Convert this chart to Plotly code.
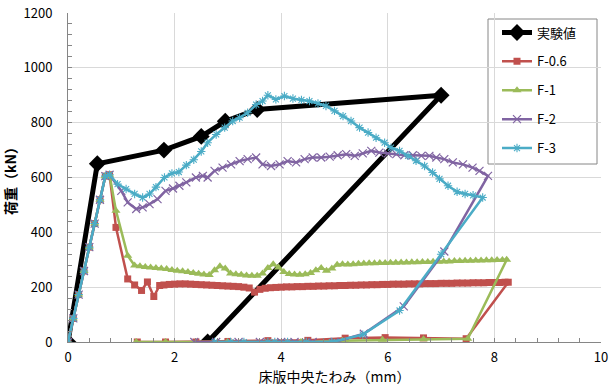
import plotly.graph_objects as go

# --- data -----------------------------------------------------------------
# initial elastic branch shared by the four analysis cases
RISE_X = [0, 0.1, 0.2, 0.3, 0.4, 0.5, 0.6, 0.7, 0.78]
RISE_Y = [0, 86, 173, 259, 346, 432, 519, 605, 610]

# test result
EXP_X = [0, 0.55, 1.8, 2.5, 2.95, 3.55, 7.0, 2.62]
EXP_Y = [0, 650, 700, 750, 805, 848, 900, 0]

# F-0.6
F06_X = RISE_X + [0.9, 1.12, 1.25, 1.38, 1.49, 1.61, 1.72,
                  1.8, 1.9, 2.0, 2.1, 2.2, 2.3, 2.4, 2.5, 2.6, 2.7, 2.8, 2.9,
                  3.0, 3.1, 3.2, 3.3, 3.4, 3.5, 3.6, 3.7, 3.8, 3.9,
                  4.0, 4.1, 4.2, 4.3, 4.4, 4.5, 4.6, 4.7, 4.8, 4.9,
                  5.0, 5.1, 5.2, 5.3, 5.4, 5.5, 5.6, 5.7, 5.8, 5.9,
                  6.0, 6.1, 6.2, 6.3, 6.4, 6.5, 6.6, 6.7, 6.8, 6.9,
                  7.0, 7.1, 7.2, 7.3, 7.4, 7.5, 7.6, 7.7, 7.8, 7.9,
                  8.0, 8.1, 8.2, 8.26,
                  7.47, 6.67, 5.95, 5.2, 4.5, 3.75, 3.0, 2.4, 1.83, 1.3]
F06_Y = RISE_Y + [418, 230, 208, 188, 219, 166, 206,
                  208, 210, 211, 212, 212, 211, 210, 209, 208, 207, 206, 205,
                  204, 203, 202, 200, 197, 182, 192, 196, 198, 199,
                  200, 201, 201, 202, 202, 203, 203, 204, 204, 205,
                  205, 206, 206, 207, 207, 208, 208, 209, 209, 210,
                  210, 211, 211, 211, 212, 212, 212, 213, 213, 213,
                  214, 214, 214, 215, 215, 215, 216, 216, 216, 217,
                  217, 217, 218, 218,
                  12, 15, 16, 14, 6, 5, 2, 0, 0, 0]

# F-1
F1_X = RISE_X + [0.9, 1.12, 1.25,
                 1.35, 1.45, 1.55, 1.65, 1.75, 1.85, 1.95, 2.05, 2.15, 2.25,
                 2.35, 2.45, 2.55, 2.65, 2.75, 2.85, 2.95, 3.05, 3.15, 3.25,
                 3.35, 3.45, 3.55, 3.65, 3.75, 3.85, 3.95, 4.05, 4.15, 4.25,
                 4.35, 4.45, 4.55, 4.65, 4.75, 4.85, 4.95, 5.05, 5.15, 5.25,
                 5.35, 5.45, 5.55, 5.65, 5.75, 5.85, 5.95, 6.05, 6.15, 6.25,
                 6.35, 6.45, 6.55, 6.65, 6.75, 6.85, 6.95, 7.05, 7.15, 7.25,
                 7.35, 7.45, 7.55, 7.65, 7.75, 7.85, 7.95, 8.05, 8.15, 8.23,
                 7.5, 6.67, 5.9, 5.15, 4.37, 2.99, 1.83, 1.28]
F1_Y = RISE_Y + [479, 315, 279,
                 276, 274, 272, 270, 268, 266, 263, 260, 258, 255,
                 252, 249, 246, 244, 262, 276, 268, 250, 247, 245,
                 243, 242, 242, 250, 270, 284, 272, 255, 248, 246,
                 245, 247, 252, 262, 270, 260, 268, 282, 284, 283,
                 284, 285, 286, 287, 287, 288, 288, 289, 289, 290,
                 290, 291, 291, 292, 292, 293, 293, 294, 294, 295,
                 295, 296, 296, 297, 297, 298, 298, 299, 299, 300,
                 12, 10, 8, 5, 0, 0, 0, 0]

# F-2
F2_X = RISE_X + [1.0, 1.12, 1.28, 1.4, 1.53, 1.68, 1.83, 1.97, 2.09, 2.22,
                 2.4, 2.53, 2.62, 2.75, 2.9, 3.06, 3.22, 3.37, 3.53, 3.65,
                 3.81, 3.97, 4.12, 4.28, 4.44, 4.59, 4.75, 4.91, 5.06, 5.22,
                 5.38, 5.53, 5.69, 5.84, 6.0, 6.16, 6.31, 6.47, 6.63, 6.78,
                 6.91, 7.06, 7.22, 7.41, 7.59, 7.72, 7.88,
                 7.06, 6.3, 5.55, 5.0, 4.59, 4.25, 4.0, 3.6, 3.2, 2.78, 2.37]
F2_Y = RISE_Y + [551, 509, 485, 491, 503, 521, 551, 560, 570, 582,
                 600, 606, 600, 624, 636, 648, 660, 667, 673, 648,
                 642, 648, 660, 655, 667, 673, 673, 676, 681, 685,
                 679, 688, 697, 691, 688, 685, 681, 681, 679, 679,
                 673, 667, 655, 648, 636, 624, 606,
                 330, 130, 30, 0, 0, 0, 0, 0, 0, 0, 0]

# F-3
F3_X = RISE_X + [0.93, 1.09, 1.25, 1.4, 1.53, 1.65, 1.81, 1.95, 2.08, 2.22,
                 2.36, 2.5, 2.62, 2.78, 2.94, 3.09, 3.22, 3.37, 3.53, 3.65,
                 3.75, 3.9, 4.06, 4.22, 4.38, 4.53, 4.69, 4.84, 5.0, 5.16,
                 5.31, 5.47, 5.63, 5.78, 5.94, 6.06, 6.22, 6.38, 6.53, 6.69,
                 6.84, 6.97, 7.13, 7.3, 7.45, 7.6, 7.78,
                 7.0, 6.22, 5.53, 4.95, 4.47, 4.12, 3.88, 3.75, 3.3, 3.05, 2.75]
F3_Y = RISE_Y + [576, 558, 540, 527, 540, 565, 600, 615, 620, 645,
                 665, 695, 727, 757, 782, 806, 818, 836, 866, 879,
                 900, 885, 897, 888, 883, 879, 870, 861, 843, 824,
                 806, 782, 764, 745, 727, 709, 697, 679, 661, 642,
                 618, 595, 570, 548, 540, 535, 527,
                 320, 115, 27, 0, 0, 0, 0, 0, 0, 0, 0]

X_TICKS = [0, 2, 4, 6, 8, 10]
Y_TICKS = [0, 200, 400, 600, 800, 1000, 1200]

FONT = "Noto Sans CJK JP"

# --- figure ---------------------------------------------------------------
fig = go.Figure()

fig.add_trace(go.Scatter(
    x=EXP_X, y=EXP_Y, name="実験値", mode="lines+markers",
    line=dict(color="#000000", width=5),
    marker=dict(symbol="diamond", size=13, color="#000000"),
    legendgroup="a"))

fig.add_trace(go.Scatter(
    x=F06_X, y=F06_Y, name="F-0.6", mode="lines+markers",
    line=dict(color="#C0504D", width=2.5),
    marker=dict(symbol="square", size=7, color="#C0504D"),
    legendgroup="b"))

fig.add_trace(go.Scatter(
    x=F1_X, y=F1_Y, name="F-1", mode="lines+markers",
    line=dict(color="#9BBB59", width=2.5),
    marker=dict(symbol="triangle-up", size=8, color="#9BBB59"),
    legendgroup="c"))

fig.add_trace(go.Scatter(
    x=F2_X, y=F2_Y, name="F-2", mode="lines+markers",
    line=dict(color="#8064A2", width=2.5),
    marker=dict(symbol="x-thin-open", size=8,
                line=dict(color="#8064A2", width=1.2)),
    legendgroup="d"))

fig.add_trace(go.Scatter(
    x=F3_X, y=F3_Y, name="F-3", mode="lines+markers",
    line=dict(color="#4BACC6", width=2.5),
    marker=dict(symbol="asterisk-open", size=7,
                line=dict(color="#4BACC6", width=1.1)),
    legendgroup="e"))

# legend frame
fig.add_shape(type="rect", xref="paper", yref="paper",
              x0=(488 - 68) / 533, x1=(597 - 68) / 533,
              y0=(342 - 164) / 329, y1=(342 - 19) / 329,
              line=dict(color="#868686", width=1), fillcolor="white",
              layer="below")

axis_common = dict(
    showgrid=True, gridcolor="#D9D9D9", gridwidth=1,
    showline=True, linecolor="#868686", linewidth=1,
    ticks="inside", ticklen=4, tickcolor="#868686",
    zeroline=False,
    tickfont=dict(family=FONT, size=13, color="#000000"),
)

fig.update_layout(
    width=611, height=387,
    margin=dict(l=68, r=10, t=13, b=45),
    paper_bgcolor="white", plot_bgcolor="white",
    font=dict(family=FONT, size=13, color="#000000"),
    showlegend=True,
    legend=dict(x=(497 - 68) / 533, y=(342 - 17.5) / 329,
                xanchor="left", yanchor="top",
                bgcolor="rgba(0,0,0,0)", borderwidth=0,
                font=dict(family=FONT, size=13, color="#000000"),
                tracegroupgap=9),
    xaxis=dict(axis_common, range=[0, 10], tickvals=X_TICKS,
               minor=dict(dtick=0.4, ticks="inside", ticklen=4,
                          tickcolor="#868686", showgrid=False),
               ticklabelstandoff=3,
               title=dict(text="床版中央たわみ（mm）", standoff=6,
                          font=dict(family=FONT, size=14, color="#000000"))),
    yaxis=dict(axis_common, range=[0, 1200], tickvals=Y_TICKS,
               minor=dict(dtick=40, ticks="inside", ticklen=4,
                          tickcolor="#868686", showgrid=False),
               ticklabelstandoff=12,
               title=dict(text="<b>荷重（kN）</b>", standoff=6,
                          font=dict(family=FONT, size=14, color="#000000"))),
)
fig.update_xaxes(automargin=False)
fig.update_yaxes(automargin=False)

fig.write_html("out.html")
